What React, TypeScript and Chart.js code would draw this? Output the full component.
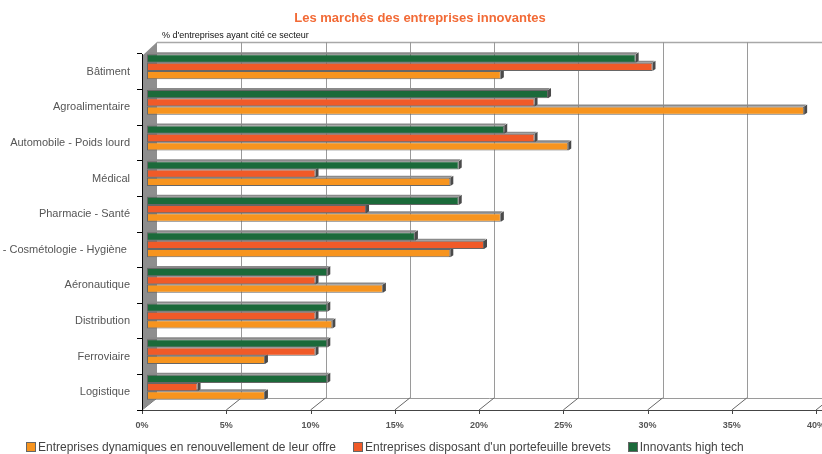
import React, { useEffect, useRef } from 'react';
import { Chart, registerables } from 'chart.js';

Chart.register(...registerables);

const chartTitle = 'Les marchés des entreprises innovantes';
const axisNote = "% d'entreprises ayant cité ce secteur";

const categories = [
  'Bâtiment',
  'Agroalimentaire',
  'Automobile - Poids lourd',
  'Médical',
  'Pharmacie - Santé',
  'Parfumerie - Cosmétologie - Hygiène ',
  'Aéronautique',
  'Distribution',
  'Ferroviaire',
  'Logistique',
];

const seriesNames = [
  'Entreprises dynamiques en renouvellement de leur offre',
  "Entreprises disposant d'un portefeuille brevets",
  'Innovants high tech',
];
const seriesColors = ['#F7941E', '#F05A28', '#1B6A3A'];

const dynamiques = [21, 39, 25, 18, 21, 18, 14, 11, 7, 7];
const brevets = [30, 23, 23, 10, 13, 20, 10, 10, 10, 3];
const highTech = [29, 23.8, 21.2, 18.5, 18.5, 15.9, 10.7, 10.7, 10.7, 10.7];

const xTickValues = [0, 5, 10, 15, 20, 25, 30, 35, 40];

const FONT = '"Liberation Sans", Arial, sans-serif';

export default function App() {
  const canvasRef = useRef<HTMLCanvasElement | null>(null);

  useEffect(() => {
    const canvas = canvasRef.current;
    if (!canvas) return;

    const DX = 15;
    const DY = 12;
    const SHIFT_X = 5;
    const SHIFT_Y = -5;
    const D = 2;

    const framePlugin = {
      id: 'frame3d',
      beforeDraw(chart: any) {
        const ctx = chart.ctx;
        const xs = chart.scales.x;
        const ca = chart.chartArea;
        const W = chart.width;
        const left = ca.left;
        const bottom = ca.bottom;
        const top = ca.top;
        ctx.save();
        ctx.strokeStyle = '#a8a8a8';
        ctx.lineWidth = 1.5;
        ctx.beginPath();
        ctx.moveTo(left + DX, top - DY + 0.5);
        ctx.lineTo(W, top - DY + 0.5);
        ctx.stroke();
        ctx.lineWidth = 1;
        ctx.strokeStyle = '#9a9a9a';
        xTickValues.forEach((v) => {
          if (v === 0) return;
          const px = Math.round(xs.getPixelForValue(v) + DX) + 0.5;
          ctx.beginPath();
          ctx.moveTo(px, top - DY);
          ctx.lineTo(px, bottom - DY);
          ctx.stroke();
        });
        ctx.beginPath();
        ctx.moveTo(left + DX, bottom - DY + 0.5);
        ctx.lineTo(W, bottom - DY + 0.5);
        ctx.stroke();
        ctx.strokeStyle = '#666';
        xTickValues.forEach((v) => {
          const px = xs.getPixelForValue(v);
          ctx.beginPath();
          ctx.moveTo(px, bottom);
          ctx.lineTo(px + DX, bottom - DY);
          ctx.stroke();
        });
        ctx.fillStyle = '#8e8e8e';
        ctx.beginPath();
        ctx.moveTo(left, top + 2);
        ctx.lineTo(left + DX, top - DY);
        ctx.lineTo(left + DX, bottom - DY);
        ctx.lineTo(left, bottom);
        ctx.closePath();
        ctx.fill();
        ctx.strokeStyle = '#444';
        ctx.beginPath();
        ctx.moveTo(left - 5, bottom + 0.5);
        ctx.lineTo(W, bottom + 0.5);
        ctx.stroke();
        xTickValues.forEach((v) => {
          const px = Math.round(xs.getPixelForValue(v)) + 0.5;
          ctx.beginPath();
          ctx.moveTo(px, bottom);
          ctx.lineTo(px, bottom + 4);
          ctx.stroke();
        });
        ctx.restore();
      },
      beforeDatasetsDraw(chart: any) {
        chart.ctx.save();
        chart.ctx.translate(SHIFT_X, SHIFT_Y);
      },
      beforeDatasetDraw(chart: any, args: any) {
        const ctx = chart.ctx;
        const meta = args.meta;
        ctx.save();
        meta.data.forEach((el: any) => {
          const p = el.getProps(['x', 'y', 'base', 'height'], true);
          const t = p.y - p.height / 2;
          const b = p.y + p.height / 2;
          const x0 = p.base;
          const x1 = p.x;
          ctx.fillStyle = '#8a8a8a';
          ctx.beginPath();
          ctx.moveTo(x0, t);
          ctx.lineTo(x0 + D, t - D);
          ctx.lineTo(x1 + D, t - D);
          ctx.lineTo(x1, t);
          ctx.closePath();
          ctx.fill();
          ctx.fillStyle = '#4a4a4a';
          ctx.beginPath();
          ctx.moveTo(x1, t);
          ctx.lineTo(x1 + D + 1, t - D);
          ctx.lineTo(x1 + D + 1, b - D);
          ctx.lineTo(x1, b);
          ctx.closePath();
          ctx.fill();
        });
        ctx.restore();
      },
      afterDatasetsDraw(chart: any) {
        chart.ctx.restore();
      },
      afterDraw(chart: any) {
        const ctx = chart.ctx;
        ctx.save();
        ctx.fillStyle = '#F26A36';
        ctx.font = `bold 13px ${FONT}`;
        ctx.textAlign = 'center';
        ctx.textBaseline = 'middle';
        ctx.fillText(chartTitle, 420, 18);
        ctx.fillStyle = '#111';
        ctx.font = `9px ${FONT}`;
        ctx.textAlign = 'left';
        ctx.fillText(axisNote, 162, 36);
        ctx.restore();
      },
    };

    const chart = new Chart(canvas, {
      type: 'bar',
      data: {
        labels: categories,
        datasets: [
          { label: seriesNames[2], data: highTech, backgroundColor: seriesColors[2] },
          { label: seriesNames[1], data: brevets, backgroundColor: seriesColors[1] },
          { label: seriesNames[0], data: dynamiques, backgroundColor: seriesColors[0] },
        ].map((d) => ({
          ...d,
          borderColor: '#666',
          borderWidth: 1,
          borderSkipped: false,
          categoryPercentage: 0.7,
          barPercentage: 1,
          clip: false as any,
        })),
      },
      options: {
        indexAxis: 'y',
        animation: false,
        responsive: true,
        maintainAspectRatio: false,
        layout: { padding: { top: 54, right: 6, left: 0, bottom: 0 } },
        plugins: {
          legend: { display: false },
          tooltip: { enabled: false },
          title: { display: false },
        },
        scales: {
          x: {
            min: 0,
            max: 40,
            afterBuildTicks: (scale: any) => {
              scale.ticks = xTickValues.map((v) => ({ value: v }));
            },
            ticks: {
              callback: (v: any) => `${v}%`,
              font: { family: FONT, size: 9, weight: 'bold' },
              color: '#555',
              padding: 10,
              maxRotation: 0,
              autoSkip: false,
            },
            grid: { display: false, drawTicks: false },
            border: { display: false },
            afterFit: (scale: any) => {
              scale.height = 44;
              scale.paddingLeft = 0;
              scale.paddingRight = 0;
            },
          },
          y: {
            ticks: {
              font: { family: FONT, size: 11 },
              color: '#555',
              padding: 7,
              autoSkip: false,
            },
            grid: {
              display: true,
              drawOnChartArea: false,
              drawTicks: true,
              tickLength: 5,
              color: '#000',
              offset: true,
            },
            border: { display: true, color: '#000', width: 1 },
            afterFit: (scale: any) => {
              scale.width = 142;
              scale.paddingTop = 0;
              scale.paddingBottom = 0;
            },
          },
        },
      } as any,
      plugins: [framePlugin],
    });

    return () => chart.destroy();
  }, []);

  const legendItems = [0, 1, 2];

  return (
    <div style={{ position: 'absolute', left: 0, top: 0, width: 822, height: 454, background: '#fff', overflow: 'hidden' }}>
      <canvas ref={canvasRef} />
      <div
        style={{
          position: 'absolute',
          left: 26,
          top: 440,
          display: 'flex',
          alignItems: 'center',
          gap: 17,
          fontFamily: FONT,
          fontSize: 12,
          lineHeight: '14px',
          color: '#444',
          whiteSpace: 'nowrap',
        }}
      >
        {legendItems.map((i) => (
          <div key={i} style={{ display: 'flex', alignItems: 'center' }}>
            <span
              style={{
                display: 'inline-block',
                width: 8,
                height: 8,
                background: seriesColors[i],
                border: '1px solid #666',
                marginRight: 2,
              }}
            />
            <span>{seriesNames[i]}</span>
          </div>
        ))}
      </div>
    </div>
  );
}
